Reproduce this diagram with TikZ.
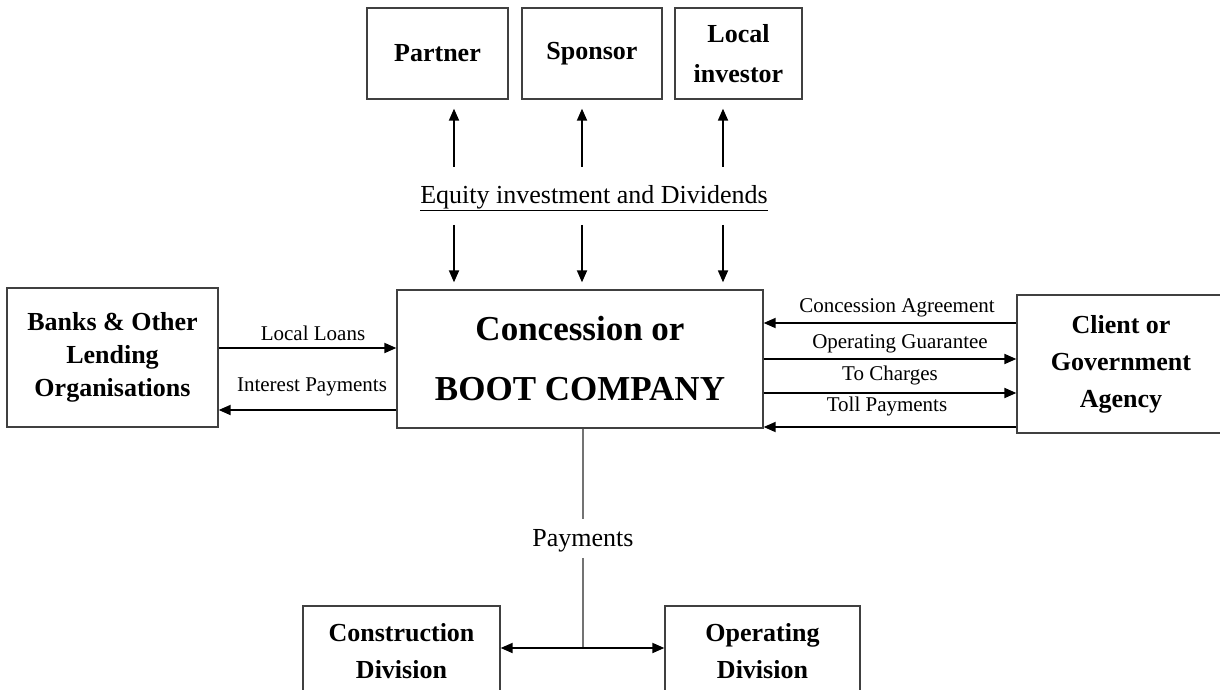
\documentclass[tikz,border=0pt]{standalone}
\usepackage{fontspec}
\setmainfont{Liberation Serif}
\usetikzlibrary{arrows.meta,positioning,calc}

\begin{document}
\begin{tikzpicture}[
    x=1pt, y=-1pt,
    partybox/.style={draw=black!75, line width=1.3pt, inner sep=0pt, align=center, font=\fontsize{26}{38}\selectfont\bfseries},
    bootbox/.style={draw=black!75, line width=1.3pt, inner sep=0pt, align=center, font=\fontsize{35}{60}\selectfont\bfseries},
    lbl/.style={font=\fontsize{21}{24}\selectfont, inner sep=0pt, anchor=base},
    biglbl/.style={font=\fontsize{26}{30}\selectfont, inner sep=0pt, anchor=base},
    flow/.style={-{Triangle[length=12pt,width=10pt]}, line width=1.8pt},
    stem/.style={draw=black!55, line width=1.5pt}
]
    \useasboundingbox (0,0) rectangle (1220,690);
    \clip (0,0) rectangle (1220,690);

    % Investors
    \node[partybox, minimum width=141pt, minimum height=91pt] (partner) at (437.5,53.5) {Partner};
    \node[partybox, minimum width=140pt, minimum height=91pt] (sponsor) at (592,53.5) {Sponsor};
    \node[partybox, minimum width=127pt, minimum height=91pt, font=\fontsize{26}{40}\selectfont\bfseries] (investor) at (738.5,53.5) {Local\\investor};

    % Concession company
    \node[bootbox, minimum width=366pt, minimum height=138pt] (boot) at (580,359) {Concession or\\BOOT COMPANY};

    % Lenders and client
    \node[partybox, minimum width=211pt, minimum height=139pt, font=\fontsize{26}{33}\selectfont\bfseries] (banks) at (112.5,357.5) {Banks \& Other\\Lending\\Organisations};
    \node[partybox, minimum width=208pt, minimum height=138pt, font=\fontsize{26}{37}\selectfont\bfseries] (agency) at (1121,364) {Client or\\Government\\Agency};

    % Divisions
    \node[partybox, minimum width=197pt, minimum height=91pt, font=\fontsize{26}{37}\selectfont\bfseries] (constr) at (401.5,651.5) {Construction\\Division};
    \node[partybox, minimum width=195pt, minimum height=91pt, font=\fontsize{26}{37}\selectfont\bfseries] (oper) at (762.5,651.5) {Operating\\Division};

    % Equity flows
    \node[biglbl] (equity) at (594,203) {\underline{Equity investment and Dividends}};
    \coordinate (colA) at (454,0);
    \coordinate (colB) at (582,0);
    \coordinate (colC) at (723,0);
    \foreach \col/\who in {colA/partner, colB/sponsor, colC/investor} {
        \draw[flow, shorten <=18pt, shorten >=9pt] (equity.north -| \col) -- (\who.south -| \col);
        \draw[flow, shorten <=14pt, shorten >=7pt] (equity.south -| \col) -- (boot.north -| \col);
    }

    % Loans
    \coordinate (loanY) at (0,348);
    \coordinate (interestY) at (0,410);
    \draw[flow] (banks.east |- loanY) -- (boot.west |- loanY);
    \draw[flow] (boot.west |- interestY) -- (banks.east |- interestY);
    \node[lbl] (loans) at (313,340) {Local Loans};
    \node[lbl] (interest) at (312,391) {Interest Payments};

    % Client agreements
    \coordinate (rowA) at (0,323);
    \coordinate (rowB) at (0,359);
    \coordinate (rowC) at (0,393);
    \coordinate (rowD) at (0,427);
    \draw[flow] (agency.west |- rowA) -- (boot.east |- rowA);
    \draw[flow] (boot.east |- rowB) -- (agency.west |- rowB);
    \draw[flow] (boot.east |- rowC) -- (agency.west |- rowC);
    \draw[flow] (agency.west |- rowD) -- (boot.east |- rowD);
    \node[lbl] (agreement) at (897,312) {Concession Agreement};
    \node[lbl] (guarantee) at (900,348) {Operating Guarantee};
    \node[lbl] (charges) at (890,380) {To Charges};
    \node[lbl] (tolls) at (887,411) {Toll Payments};

    % Payments to divisions
    \coordinate (fork) at (583,648);
    \node[biglbl] (pay) at (583,546) {Payments};
    \draw[stem] (boot.south -| fork) -- ([yshift=10pt]pay.north);
    \draw[stem] ([yshift=-6pt]pay.south) -- (fork);
    \draw[flow] (fork) -- (constr.east |- fork);
    \draw[flow] (fork) -- (oper.west |- fork);

\end{tikzpicture}
\end{document}
